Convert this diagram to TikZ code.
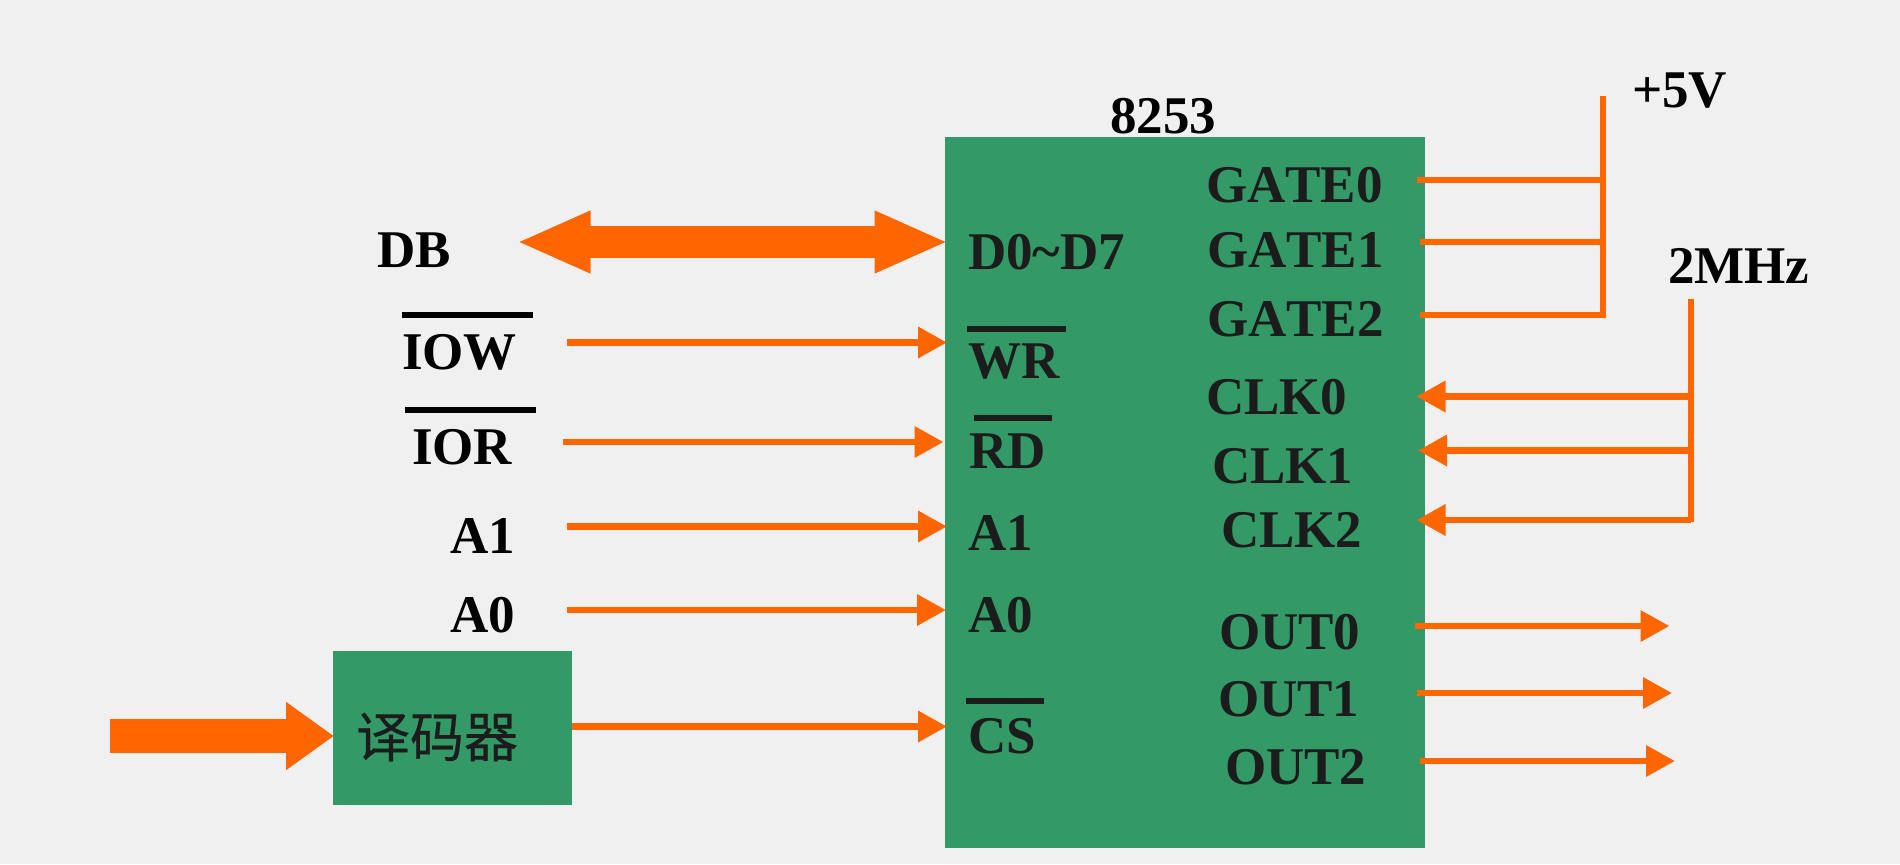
\documentclass[tikz,border=0pt]{standalone}
\usepackage{fontspec}
\setmainfont[Kerning=Off]{Liberation Serif}
\newfontfamily\cjk[FakeBold=0.4]{Noto Sans CJK SC}
\usetikzlibrary{arrows.meta}
\definecolor{bgc}{HTML}{F0F0F0}
\definecolor{grn}{HTML}{339966}
\definecolor{org}{HTML}{FF6600}
\definecolor{ink}{HTML}{1C1C1C}
\tikzset{
  x=0.5pt,y=-0.5pt,
  box/.style={fill=grn,draw=none,inner sep=0,outer sep=0,anchor=north west},
  lab/.style={anchor=base west,inner sep=0,outer sep=0,text=black,font=\fontsize{26.5pt}{26.5pt}\selectfont\bfseries},
  inlab/.style={lab,text=ink},
  bar/.style={line width=3pt,black},
  inbar/.style={line width=3pt,ink},
  wire/.style={org,line width=3.3pt},
  thinwire/.style={org,line width=2.8pt},
  arr/.style={org,line width=3.3pt,-{Triangle[length=14.5pt,width=15pt]}},
  busarr/.style={org,line width=16pt,{Triangle[length=37pt,width=28.5pt]}-{Triangle[length=37pt,width=28.5pt]}},
  fatarr/.style={org,line width=17pt,-{Triangle[length=24pt,width=32.5pt]}},
}
\begin{document}
\begin{tikzpicture}
\useasboundingbox (0,0) rectangle (1900,864);
\fill[bgc] (0,0) rectangle (1900,864);
% boxes
\node[box,minimum width=240pt,minimum height=355.5pt] (chip) at (945,137) {};
\node[box,minimum width=119.5pt,minimum height=77pt] (dec) at (333,650.5) {};
% left labels
\node[lab] (db) at (377,267) {DB};
\node[lab] (iow) at (402,369) {IOW};
\node[lab] (ior) at (412,464) {IOR};
\node[lab] (a1o) at (450,553) {A1};
\node[lab] (a0o) at (450,632) {A0};
% chip labels
\node[lab] (name) at (1110,133.5) {8253};
\node[inlab] (d07) at (968,269.5) {D0\char"7E D7};
\node[inlab] (wr) at (968,378) {WR};
\node[inlab] (rd) at (969,468) {RD};
\node[inlab] (a1i) at (968,550) {A1};
\node[inlab] (a0i) at (968,632) {A0};
\node[inlab] (cs) at (968,753) {CS};
\node[inlab] (g0) at (1206,202) {GATE0};
\node[inlab] (g1) at (1207,267) {GATE1};
\node[inlab] (g2) at (1207,336) {GATE2};
\node[inlab] (c0) at (1206,414) {CLK0};
\node[inlab] (c1) at (1212,483) {CLK1};
\node[inlab] (c2) at (1221,547) {CLK2};
\node[inlab] (o0) at (1219,649) {OUT0};
\node[inlab] (o1) at (1218,716) {OUT1};
\node[inlab] (o2) at (1225,784) {OUT2};
\node[lab] (v5) at (1632,107) {+5V};
\node[lab] (mhz) at (1668,283) {2MHz};
\node[inlab,anchor=center,font=\fontsize{27pt}{27pt}\cjk] (dect) at (437,737) {译码器};
% overbars
\coordinate (b1a) at (402,315); \coordinate (b1b) at (533,315);
\coordinate (b2a) at (405,410); \coordinate (b2b) at (536,410);
\coordinate (b3a) at (967,329); \coordinate (b3b) at (1066,329);
\coordinate (b4a) at (974,418); \coordinate (b4b) at (1052,418);
\coordinate (b5a) at (966,701); \coordinate (b5b) at (1044,701);
\draw[bar] (b1a) -- (b1b);
\draw[bar] (b2a) -- (b2b);
\draw[inbar] (b3a) -- (b3b);
\draw[inbar] (b4a) -- (b4b);
\draw[inbar] (b5a) -- (b5b);
% free ends
\coordinate (busL) at (516.5,242); \coordinate (busR) at (948.5,242);
\coordinate (iowS) at (566.5,342.5); \coordinate (iowE) at (947,342.5);
\coordinate (iorS) at (563,442); \coordinate (iorE) at (943.5,442);
\coordinate (a1S) at (566.5,526.5); \coordinate (a1E) at (947,526.5);
\coordinate (a0S) at (566.5,610); \coordinate (a0E) at (946,610);
\coordinate (csS) at (572,726.5); \coordinate (csE) at (947,726.5);
\coordinate (inS) at (110,736); \coordinate (inE) at (334,736);
\draw[busarr] (busL) -- (busR);
\draw[arr] (iowS) -- (iowE);
\draw[arr] (iorS) -- (iorE);
\draw[arr] (a1S) -- (a1E);
\draw[arr] (a0S) -- (a0E);
\draw[arr] (csS) -- (csE);
\draw[fatarr] (inS) -- (inE);
% gates
\coordinate (vt) at (1603,96); \coordinate (vg0) at (1603,180); \coordinate (vg1) at (1603,242); \coordinate (vg2) at (1603,315);
\coordinate (g0p) at (1416.5,180); \coordinate (g1p) at (1420,242); \coordinate (g2p) at (1420,315);
\draw[wire] (vt) -- (vg2) -- ++(0,3);
\draw[wire] (g0p) -- (vg0);
\draw[wire] (g1p) -- (vg1);
\draw[wire] (g2p) -- (vg2);
% clocks
\coordinate (ct) at (1691,299); \coordinate (cb) at (1691,522);
\coordinate (vc0) at (1691,396.5); \coordinate (vc1) at (1691,450.5); \coordinate (vc2) at (1691,520);
\coordinate (c0p) at (1416.5,396.5); \coordinate (c1p) at (1418,450.5); \coordinate (c2p) at (1416.5,520);
\draw[thinwire] (ct) -- (cb);
\draw[arr] (vc0) -- (c0p);
\draw[arr] (vc1) -- (c1p);
\draw[arr] (vc2) -- (c2p);
% outs
\coordinate (o0S) at (1415,626); \coordinate (o0E) at (1669.5,626);
\coordinate (o1S) at (1417,693); \coordinate (o1E) at (1672,693);
\coordinate (o2S) at (1420,761); \coordinate (o2E) at (1675,761);
\draw[arr] (o0S) -- (o0E);
\draw[arr] (o1S) -- (o1E);
\draw[arr] (o2S) -- (o2E);
\end{tikzpicture}
\end{document}
